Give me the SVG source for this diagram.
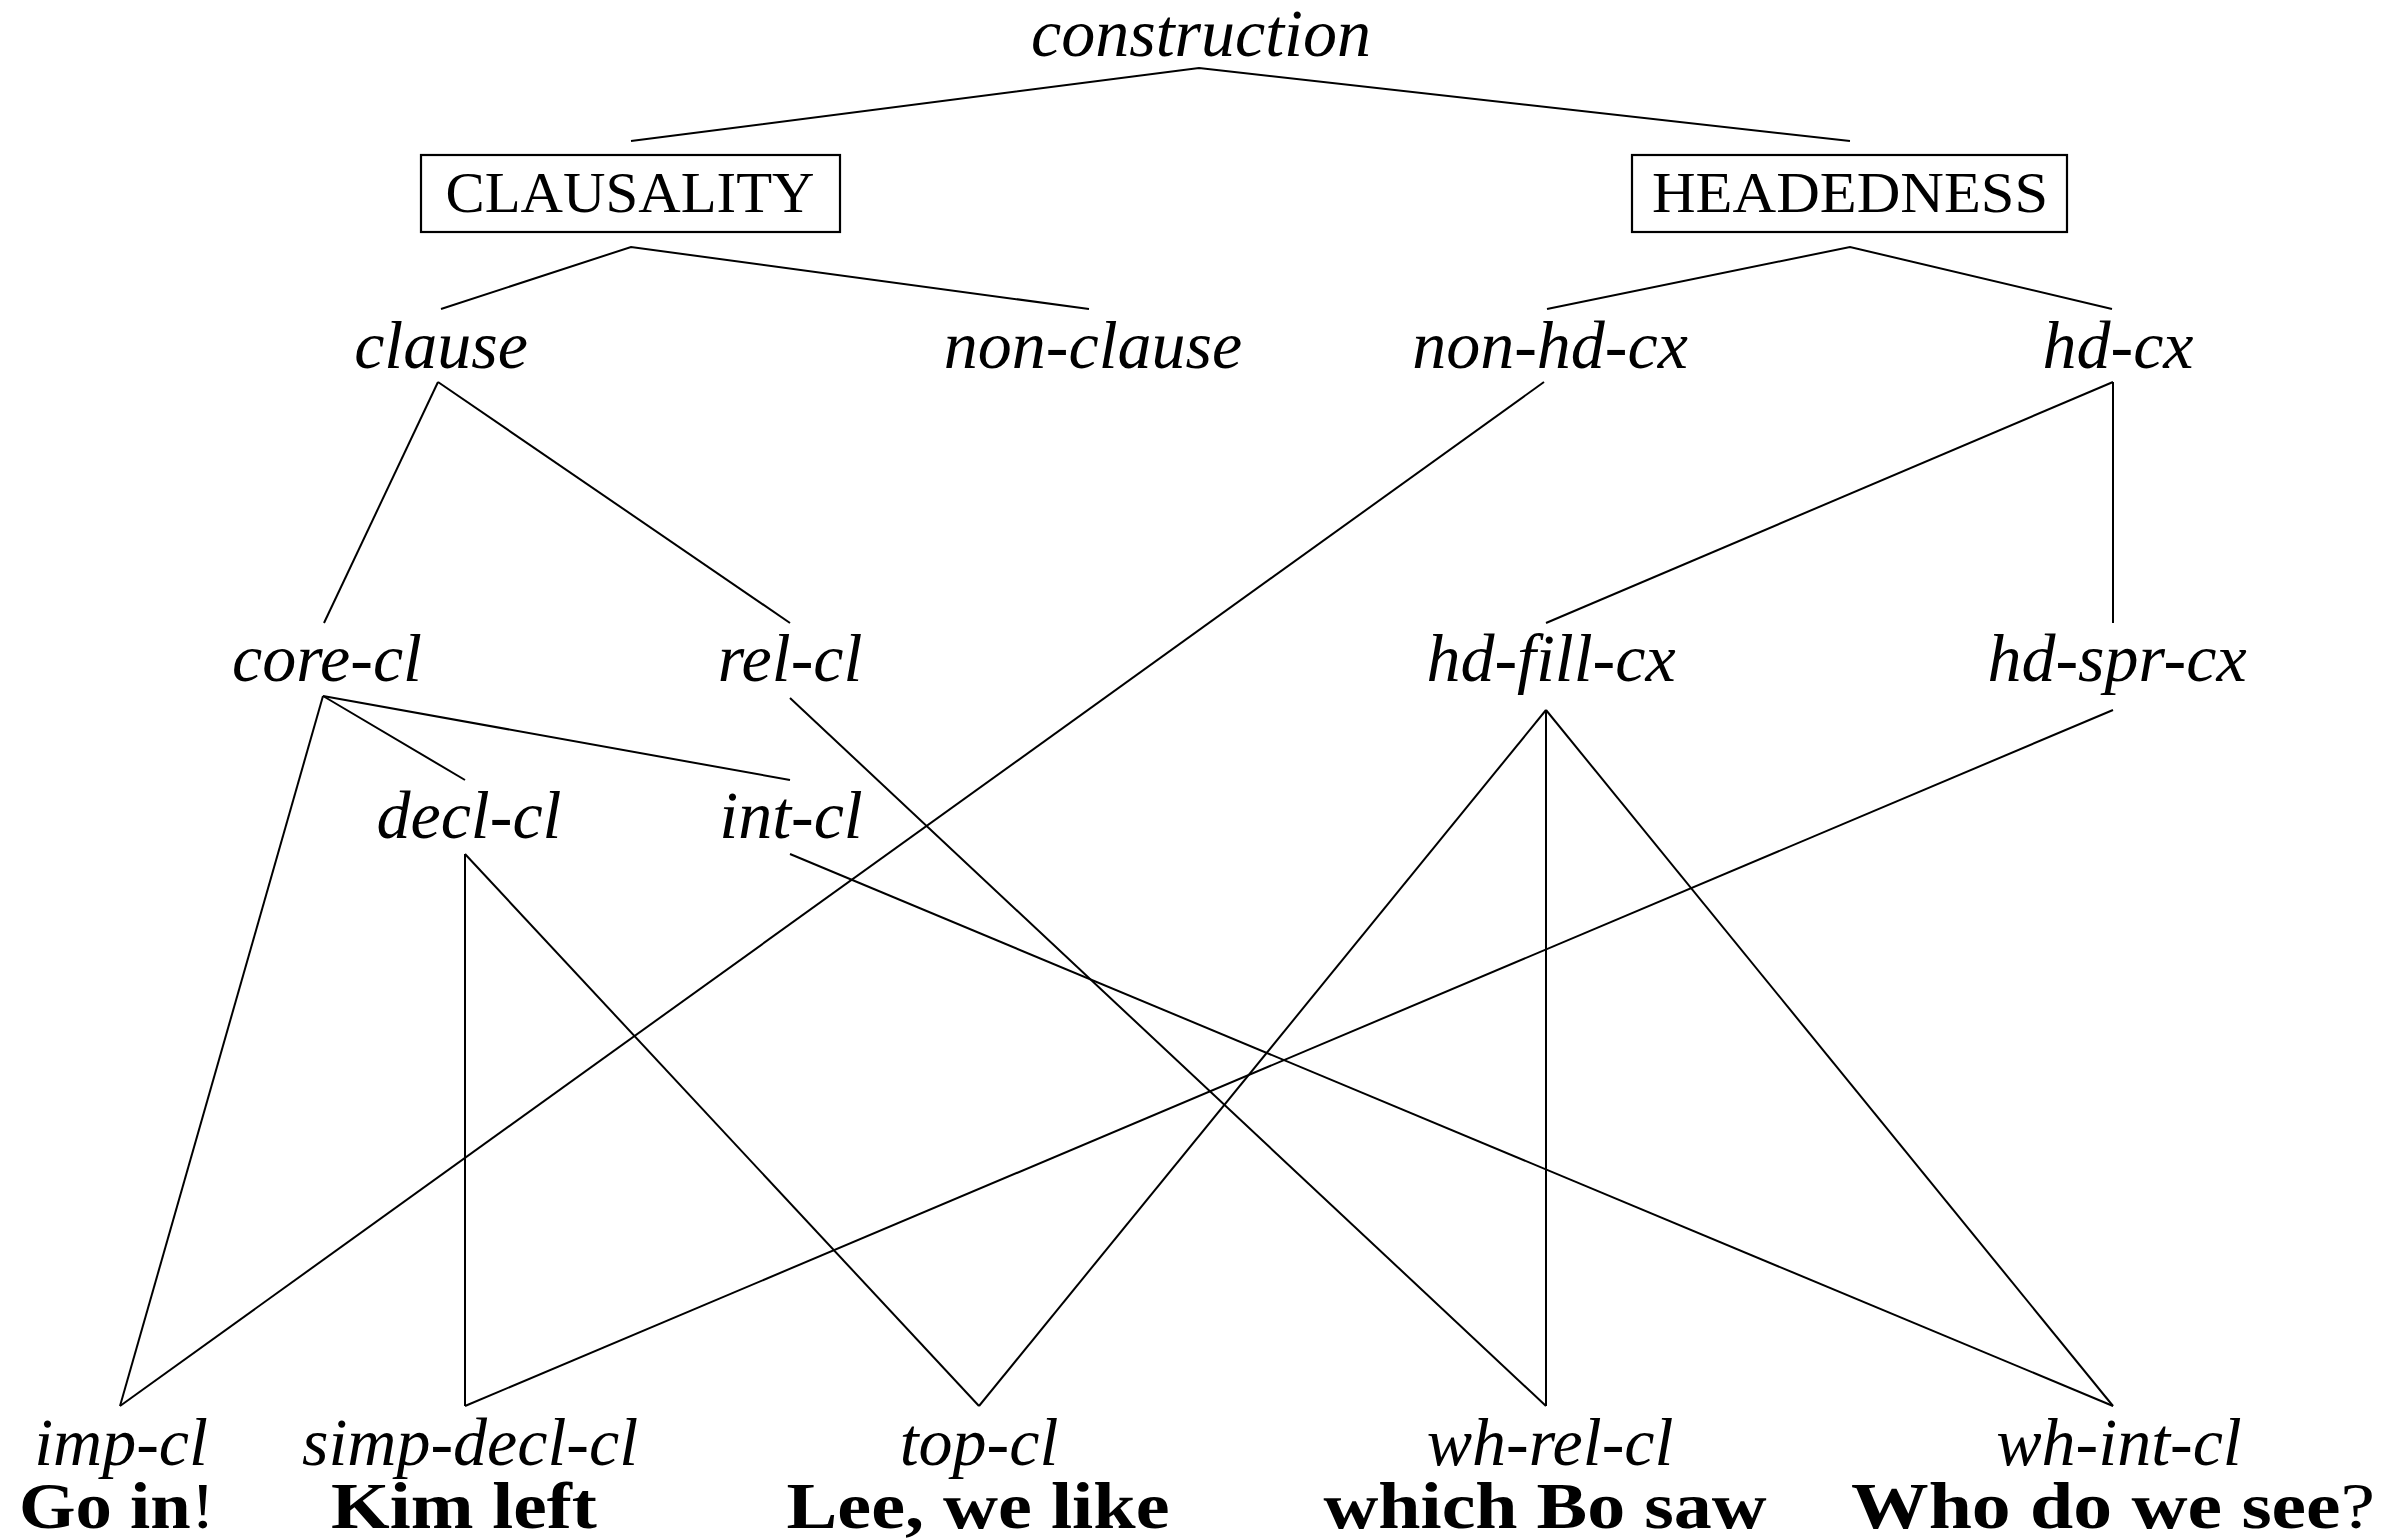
<svg xmlns="http://www.w3.org/2000/svg" width="2408" height="1539" viewBox="0 0 2408 1539">
<style>
.bg{fill:#fff}
.it{font-family:"Liberation Serif","DejaVu Serif",serif;font-style:italic;font-size:68px;fill:#000;text-anchor:middle}
.sc{font-family:"Liberation Serif","DejaVu Serif",serif;font-size:56px;fill:#000;text-anchor:middle}
.bd{font-family:"Liberation Serif","DejaVu Serif",serif;font-weight:bold;font-size:66px;fill:#000;text-anchor:middle}
.nw{font-weight:normal}
.box{fill:none;stroke:#000;stroke-width:2.2}
.edge{stroke:#000;stroke-width:2;fill:none}
</style>
<rect class="bg" x="0" y="0" width="2408" height="1539"/>
<g id="connectors">
<polyline class="edge" points="631,141 1199,68 1850,141"/>
<polyline class="edge" points="441,309 631,247 1089,309"/>
<polyline class="edge" points="1547,309 1850,247 2112,309"/>
<line class="edge" x1="438" y1="382" x2="324" y2="623"/>
<line class="edge" x1="438" y1="382" x2="790" y2="623"/>
<line class="edge" x1="1544" y1="382" x2="120" y2="1406"/>
<line class="edge" x1="2113" y1="382" x2="1546" y2="623"/>
<line class="edge" x1="2113" y1="382" x2="2113" y2="623"/>
<line class="edge" x1="323" y1="696" x2="120" y2="1406"/>
<line class="edge" x1="323" y1="696" x2="465" y2="780"/>
<line class="edge" x1="323" y1="696" x2="790" y2="780"/>
<line class="edge" x1="790" y1="698" x2="1546" y2="1406"/>
<line class="edge" x1="1546" y1="710" x2="979" y2="1406"/>
<line class="edge" x1="1546" y1="710" x2="1546" y2="1406"/>
<line class="edge" x1="1546" y1="710" x2="2113" y2="1406"/>
<line class="edge" x1="2113" y1="710" x2="465" y2="1406"/>
<line class="edge" x1="465" y1="854" x2="465" y2="1406"/>
<line class="edge" x1="465" y1="854" x2="979" y2="1406"/>
<line class="edge" x1="790" y1="854" x2="2113" y2="1406"/>
</g>
<g id="construction"><text class="it" x="1201" y="56">construction</text></g>
<g id="clausality"><rect class="box" x="421" y="155" width="419" height="77"/><text class="sc" x="630" y="212" textLength="369" lengthAdjust="spacingAndGlyphs">CLAUSALITY</text></g>
<g id="headedness"><rect class="box" x="1632" y="155" width="435" height="77"/><text class="sc" x="1850" y="212" textLength="396" lengthAdjust="spacingAndGlyphs">HEADEDNESS</text></g>
<g id="clause"><text class="it" x="441" y="368">clause</text></g>
<g id="non-clause"><text class="it" x="1093" y="368">non-clause</text></g>
<g id="non-hd-cx"><text class="it" x="1550" y="368">non-hd-cx</text></g>
<g id="hd-cx"><text class="it" x="2118" y="368">hd-cx</text></g>
<g id="core-cl"><text class="it" x="327" y="681">core-cl</text></g>
<g id="rel-cl"><text class="it" x="790" y="681">rel-cl</text></g>
<g id="hd-fill-cx"><text class="it" x="1551" y="681">hd-fill-cx</text></g>
<g id="hd-spr-cx"><text class="it" x="2117" y="681">hd-spr-cx</text></g>
<g id="decl-cl"><text class="it" x="469" y="838">decl-cl</text></g>
<g id="int-cl"><text class="it" x="791" y="838">int-cl</text></g>
<g id="imp-cl"><text class="it" x="121" y="1465">imp-cl</text><text class="bd" x="117" y="1528" textLength="196" lengthAdjust="spacingAndGlyphs">Go in<tspan class="nw">!</tspan></text></g>
<g id="simp-decl-cl"><text class="it" x="470" y="1465">simp-decl-cl</text><text class="bd" x="464" y="1528" textLength="266" lengthAdjust="spacingAndGlyphs">Kim left</text></g>
<g id="top-cl"><text class="it" x="979" y="1465">top-cl</text><text class="bd" x="978" y="1528" textLength="383" lengthAdjust="spacingAndGlyphs">Lee, we like</text></g>
<g id="wh-rel-cl"><text class="it" x="1550" y="1465">wh-rel-cl</text><text class="bd" x="1545" y="1528" textLength="443" lengthAdjust="spacingAndGlyphs">which Bo saw</text></g>
<g id="wh-int-cl"><text class="it" x="2119" y="1465">wh-int-cl</text><text class="bd" x="2113" y="1528" textLength="524" lengthAdjust="spacingAndGlyphs">Who do we see<tspan class="nw">?</tspan></text></g>
</svg>
